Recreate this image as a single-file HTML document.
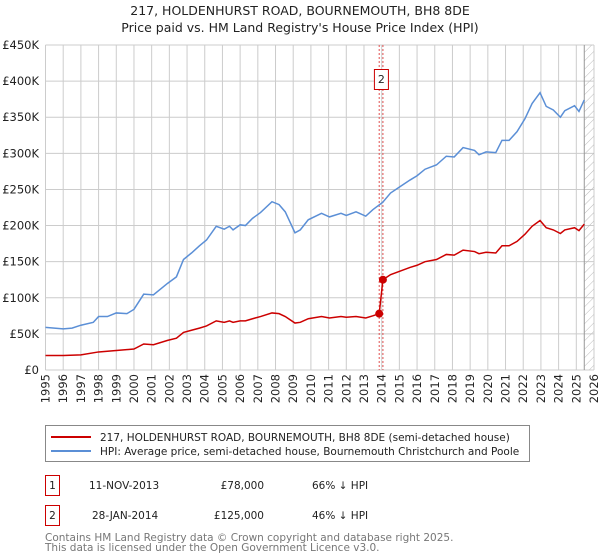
<!DOCTYPE html>
<html><head><meta charset="utf-8">
<style>
body{margin:0;background:#fff;}
svg{display:block;font-family:"DejaVu Sans","Liberation Sans",sans-serif;}
</style></head>
<body>
<svg id="chart" width="600" height="560" viewBox="0 0 600 560" xmlns="http://www.w3.org/2000/svg">
<defs>
<pattern id="hatch" patternUnits="userSpaceOnUse" width="6" height="6" patternTransform="rotate(45)">
<line x1="0" y1="0" x2="0" y2="6" stroke="#bbb" stroke-width="1"/>
</pattern>
</defs>
<text x="300" y="15" text-anchor="middle" font-size="12.5" fill="#222">217, HOLDENHURST ROAD, BOURNEMOUTH, BH8 8DE</text>
<text x="300" y="32" text-anchor="middle" font-size="12.5" fill="#222">Price paid vs. HM Land Registry's House Price Index (HPI)</text>
<g id="grid"></g>
<g id="marks"></g>
<g>
<rect x="45.5" y="425.5" width="484" height="36" fill="#fff" stroke="#888"/>
<line x1="51" y1="437" x2="91" y2="437" stroke="#cc0000" stroke-width="2"/>
<text x="100" y="441" font-size="10.5" fill="#222">217, HOLDENHURST ROAD, BOURNEMOUTH, BH8 8DE (semi-detached house)</text>
<line x1="51" y1="451" x2="91" y2="451" stroke="#5b8fd6" stroke-width="2"/>
<text x="100" y="455" font-size="10.5" fill="#222">HPI: Average price, semi-detached house, Bournemouth Christchurch and Poole</text>
</g>
<g font-size="10.5" fill="#222">
<rect x="45.5" y="475.5" width="14" height="20" fill="#fff" stroke="#cc0000"/>
<text x="52.5" y="489" text-anchor="middle">1</text>
<text x="89" y="489">11-NOV-2013</text>
<text x="264" y="489" text-anchor="end">£78,000</text>
<text x="312" y="489">66% ↓ HPI</text>
<rect x="45.5" y="505.5" width="14" height="20" fill="#fff" stroke="#cc0000"/>
<text x="52.5" y="519" text-anchor="middle">2</text>
<text x="92" y="519">28-JAN-2014</text>
<text x="264" y="519" text-anchor="end">£125,000</text>
<text x="312" y="519">46% ↓ HPI</text>
</g>
<text x="45" y="541" font-size="10.5" fill="#777">Contains HM Land Registry data © Crown copyright and database right 2025.</text>
<text x="45" y="551" font-size="10.5" fill="#777">This data is licensed under the Open Government Licence v3.0.</text>
</svg>
<script>
const hpiYears=[1995,1996,1996.5,1997,1997.7,1998,1998.5,1999,1999.6,2000,2000.55,2001.1,2001.9,2002.4,2002.8,2003.25,2003.7,2004.1,2004.65,2005.1,2005.4,2005.6,2006,2006.3,2006.7,2007.15,2007.8,2008.2,2008.55,2009.1,2009.4,2009.85,2010.6,2011.05,2011.7,2012,2012.55,2013.1,2013.5,2014.05,2014.5,2015.05,2015.6,2016,2016.45,2017.1,2017.65,2018.1,2018.6,2019.25,2019.5,2019.9,2020.45,2020.8,2021.2,2021.65,2022.1,2022.5,2022.95,2023.3,2023.7,2024.1,2024.35,2024.9,2025.15,2025.45];
const hpiValues=[59,57,58,62,66,74,74,79,78,84,105,104,120,129,153,162,172,180,199,195,199,194,201,200,210,218,233,229,219,190,194,208,217,212,217,214,219,213,222,232,245,254,263,269,278,284,296,295,308,304,298,302,301,318,318,330,348,369,384,365,360,350,359,366,358,374];
const redYears=[1995,1996,1997,1998,1999,2000,2000.55,2001.1,2001.9,2002.4,2002.8,2003.25,2003.7,2004.1,2004.65,2005.1,2005.4,2005.6,2006,2006.3,2006.7,2007.15,2007.8,2008.2,2008.55,2009.1,2009.4,2009.85,2010.6,2011.05,2011.7,2012,2012.55,2013.1,2013.5,2013.86,2014.07,2014.5,2015.05,2015.6,2016,2016.45,2017.1,2017.65,2018.1,2018.6,2019.25,2019.5,2019.9,2020.45,2020.8,2021.2,2021.65,2022.1,2022.5,2022.95,2023.3,2023.7,2024.1,2024.35,2024.9,2025.15,2025.45];
const redValues=[20,20,21,25,27,29,36,35,41,44,52,55,58,61,68,66,68,66,68,68,71,74,79,78,74,65,66,71,74,72,74,73,74,72,75,78,125,132,137,142,145,150,153,160,159,166,164,161,163,162,172,172,178,188,199,207,197,194,189,194,197,193,202];
const saleYears=[2013.86,2014.07];
const saleValues=[78,125];
const yTicks=[0,50,100,150,200,250,300,350,400,450];
const yTickLabels=["£0","£50K","£100K","£150K","£200K","£250K","£300K","£350K","£400K","£450K"];
const xTicks=[1995,1996,1997,1998,1999,2000,2001,2002,2003,2004,2005,2006,2007,2008,2009,2010,2011,2012,2013,2014,2015,2016,2017,2018,2019,2020,2021,2022,2023,2024,2025,2026];

const L=45.5,R=594,T=45,B=370;
const xs=y=>L+(y-1995)/(2026-1995)*(R-L);
const ys=v=>B-v/450*(B-T);
const NS="http://www.w3.org/2000/svg";
function mk(tag,attrs,parent){const e=document.createElementNS(NS,tag);for(const k in attrs)e.setAttribute(k,attrs[k]);parent.appendChild(e);return e;}
const grid=document.getElementById('grid'),marks=document.getElementById('marks');
xTicks.forEach(t=>{
  const l=mk('line',{x1:xs(t),x2:xs(t),y1:T,y2:B,stroke:'#ccc','stroke-width':1},grid);
  
  
  const x=xs(t)+4,y=374;
  const tx=mk('text',{x:x,y:y,'text-anchor':'end','font-size':11.5,fill:'#222',transform:'rotate(-90 '+x+' '+y+')'},grid);
  tx.textContent=t;
  
  
});
yTicks.forEach((t,i)=>{
  const l=mk('line',{x1:L,x2:R,y1:ys(t),y2:ys(t),stroke:'#ccc','stroke-width':1},grid);
  
  
  const tx=mk('text',{x:39,y:ys(t)+4,'text-anchor':'end','font-size':11.5,fill:'#222'},grid);
  tx.textContent=yTickLabels[i];
  
  
});
const hx=xs(2025.45);
const h=mk('rect',{x:hx,y:T,width:R-hx,height:B-T,fill:'url(#hatch)'},grid);


const hl=mk('line',{x1:hx,x2:hx,y1:T,y2:B,stroke:'#999','stroke-width':1},grid);


saleYears.forEach(y=>{
  const l=mk('line',{x1:xs(y),x2:xs(y),y1:T,y2:B,stroke:'#e05050','stroke-width':1,'stroke-dasharray':'2,2'},marks);
  
  
});
const hp=mk('polyline',{points:hpiYears.map((y,i)=>xs(y)+','+ys(hpiValues[i])).join(' '),fill:'none',stroke:'#5b8fd6','stroke-width':1.5},marks);


const rp=mk('polyline',{points:redYears.map((y,i)=>xs(y)+','+ys(redValues[i])).join(' '),fill:'none',stroke:'#cc0000','stroke-width':1.5},marks);


saleYears.forEach((y,i)=>{
  const c=mk('circle',{cx:xs(y),cy:ys(saleValues[i]),r:4,fill:'#cc0000'},marks);
  
  
});
const bx=xs(2014.07)-8;
const b=mk('rect',{x:bx-0.5,y:69.5,width:14,height:20,fill:'#fff',stroke:'#cc0000'},marks);


const bt=mk('text',{x:bx+6.5,y:83,'text-anchor':'middle','font-size':11,fill:'#222'},marks);
bt.textContent='2';


</script>
</body></html>
